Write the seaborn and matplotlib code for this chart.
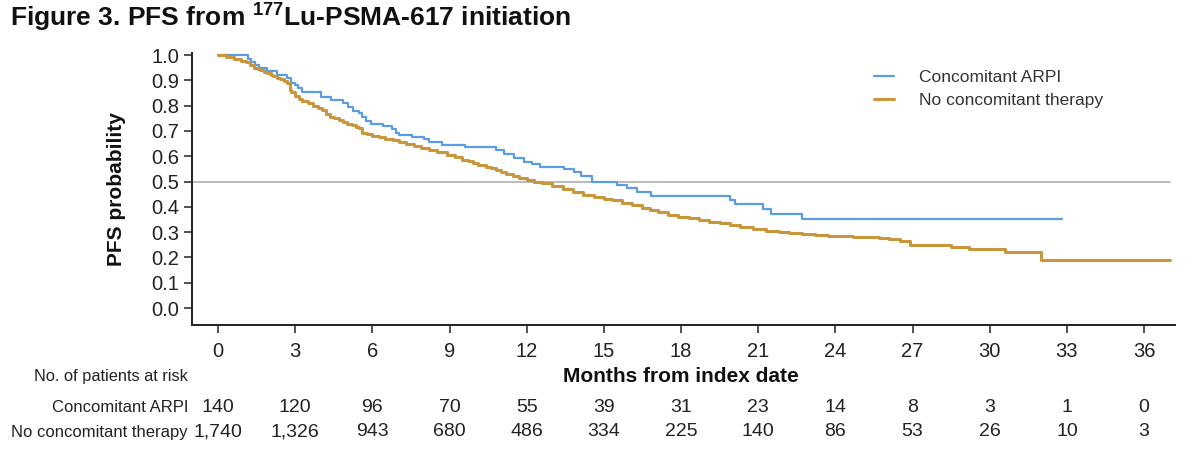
import numpy as np
import pandas as pd
import matplotlib
matplotlib.use("Agg")
import matplotlib.pyplot as plt
import matplotlib.transforms as mtransforms
import seaborn as sns

# ---------------- data ----------------
arpi_months = [0, 1.15, 1.3, 1.45, 1.6, 1.92, 2.3, 2.7, 2.85, 2.98, 3.1, 3.28, 4.0, 4.4, 4.85,
               5.05, 5.23, 5.5, 5.6, 5.77, 5.96, 6.4, 6.78, 6.9, 7.05, 7.56, 8.0, 8.2, 8.7,
               9.6, 10.8, 11.1, 11.5, 11.9, 12.2, 12.5, 13.45, 13.85, 14.1, 14.55, 15.5,
               15.9, 16.3, 16.85, 19.9, 20.1, 21.2, 21.5, 22.7, 32.8]
arpi_pfs = [1.0, 0.985, 0.972, 0.96, 0.95, 0.935, 0.92, 0.908, 0.89, 0.88, 0.868, 0.852, 0.835,
            0.822, 0.81, 0.795, 0.78, 0.77, 0.755, 0.738, 0.728, 0.72, 0.708, 0.69, 0.682,
            0.676, 0.668, 0.656, 0.645, 0.636, 0.625, 0.61, 0.592, 0.578, 0.57, 0.557, 0.55,
            0.537, 0.52, 0.498, 0.486, 0.474, 0.46, 0.443, 0.427, 0.41, 0.39, 0.37, 0.35, 0.35]

none_months = [0, 0.3, 0.64, 0.9, 1.1, 1.25, 1.4, 1.55, 1.65, 1.8, 1.9, 2.05, 2.15, 2.3, 2.4,
               2.55, 2.7, 2.78, 2.85, 3.0, 3.15, 3.28, 3.5, 3.7, 3.9, 4.06, 4.2, 4.35, 4.5,
               4.7, 4.84, 5.0, 5.2, 5.35, 5.5, 5.6, 5.8, 6.0, 6.27, 6.5, 6.8, 7.05, 7.3, 7.6,
               7.9, 8.2, 8.5, 8.9, 9.2, 9.5, 9.7, 9.9, 10.1, 10.4, 10.6, 10.8, 11.0, 11.2,
               11.45, 11.7, 12.0, 12.3, 12.6, 13.0, 13.4, 13.8, 14.2, 14.6, 15.0, 15.3, 15.7,
               16.1, 16.5, 16.8, 17.1, 17.5, 17.9, 18.3, 18.7, 19.1, 19.5, 19.9, 20.3, 20.8,
               21.3, 21.8, 22.2, 22.7, 23.2, 23.7, 24.2, 24.7, 25.2, 25.7, 26.1, 26.5, 26.9,
               28.5, 29.2, 30.6, 32.0, 37.0]
none_pfs = [1.0, 0.992, 0.984, 0.978, 0.972, 0.962, 0.95, 0.944, 0.94, 0.934, 0.929, 0.922,
            0.917, 0.91, 0.905, 0.897, 0.889, 0.862, 0.852, 0.838, 0.828, 0.818, 0.81, 0.8,
            0.79, 0.783, 0.765, 0.757, 0.75, 0.742, 0.735, 0.728, 0.722, 0.716, 0.71, 0.692,
            0.686, 0.681, 0.676, 0.67, 0.663, 0.657, 0.65, 0.642, 0.633, 0.625, 0.617, 0.606,
            0.596, 0.587, 0.58, 0.573, 0.566, 0.558, 0.552, 0.545, 0.537, 0.53, 0.522, 0.514,
            0.506, 0.5, 0.494, 0.482, 0.47, 0.458, 0.447, 0.44, 0.432, 0.427, 0.417, 0.407,
            0.397, 0.388, 0.378, 0.368, 0.36, 0.354, 0.348, 0.341, 0.335, 0.327, 0.32, 0.311,
            0.304, 0.3, 0.296, 0.292, 0.289, 0.286, 0.284, 0.282, 0.281, 0.277, 0.272, 0.265,
            0.248, 0.24, 0.232, 0.222, 0.188, 0.188]

groups = ["Concomitant ARPI", "No concomitant therapy"]
colors = ["#5b9de0", "#c8963c"]

x_ticks = [0, 3, 6, 9, 12, 15, 18, 21, 24, 27, 30, 33, 36]
y_ticks = [0.0, 0.1, 0.2, 0.3, 0.4, 0.5, 0.6, 0.7, 0.8, 0.9, 1.0]
risk_arpi = ["140", "120", "96", "70", "55", "39", "31", "23", "14", "8", "3", "1", "0"]
risk_none = ["1,740", "1,326", "943", "680", "486", "334", "225", "140", "86", "53", "26", "10", "3"]

title = r"Figure 3. PFS from $\mathbf{^{177}}$Lu-PSMA-617 initiation"
x_label = "Months from index date"
y_label = "PFS probability"
risk_title = "No. of patients at risk"

# ---------------- style ----------------
sns.set_style("ticks")
plt.rcParams["font.family"] = ["Liberation Sans", "DejaVu Sans"]
plt.rcParams["mathtext.fontset"] = "custom"
plt.rcParams["mathtext.bf"] = "Liberation Sans:bold"
plt.rcParams["mathtext.rm"] = "Liberation Sans"

df = pd.concat([
    pd.DataFrame({"Months": arpi_months, "PFS": arpi_pfs, "Group": groups[0]}),
    pd.DataFrame({"Months": none_months, "PFS": none_pfs, "Group": groups[1]}),
], ignore_index=True)

W, H = 1200, 457
fig = plt.figure(figsize=(W / 100, H / 100), dpi=100)
ax = fig.add_axes([191.5 / W, 1 - 325 / H, (1175 - 191.5) / W, (325 - 53) / H])

sns.lineplot(data=df, x="Months", y="PFS", hue="Group", hue_order=groups,
             palette=colors, drawstyle="steps-post", estimator=None, sort=False,
             linewidth=1.8, ax=ax)
for line, lw in zip(ax.lines[:2], [1.6, 2.2]):
    line.set_linewidth(lw)

ax.axhline(0.5, xmin=0, xmax=0.995, color="#a8a8a8", lw=1.1, zorder=0)

ax.set_xlim(-1.03, 37.2)
ax.set_ylim(-0.067, 1.008)
ax.set_xticks(x_ticks)
ax.set_yticks(y_ticks)
ax.set_yticklabels([f"{v:.1f}" for v in y_ticks], fontsize=14.5, color="#222222")
ax.set_xticklabels([str(v) for v in x_ticks], fontsize=14.5, color="#222222")
ax.tick_params(axis="both", length=6, width=1.2, color="#333333")
ax.tick_params(axis="y", pad=3)
ax.tick_params(axis="x", pad=6)
for s in ["top", "right"]:
    ax.spines[s].set_visible(False)
for s in ["left", "bottom"]:
    ax.spines[s].set_linewidth(1.4)
    ax.spines[s].set_color("#222222")

ax.set_xlabel("")
ax.set_ylabel(y_label, fontsize=15, fontweight="bold", color="#111111")
ax.yaxis.set_label_coords((126 - 191.5) / (1175 - 191.5), 0.5)

handles, labels = ax.get_legend_handles_labels()
for h, lw in zip(handles, [1.6, 2.2]):
    h.set_linewidth(lw)
leg = ax.legend(handles, labels, loc="upper left", frameon=False,
                bbox_to_anchor=(874 / W, 1 - 70 / H), bbox_transform=fig.transFigure,
                borderaxespad=0, borderpad=0, handlelength=1.15, handletextpad=1.45,
                labelspacing=0.45, fontsize=12.5)
for t in leg.get_texts():
    t.set_color("#333333")

fig.text(10 / W, 1 - 18 / H, title, fontsize=19, fontweight="bold",
         va="center", ha="left", color="#111111")

trans = mtransforms.blended_transform_factory(ax.transData, fig.transFigure)
ax.text(np.mean([x_ticks[0], x_ticks[-1]]), 1 - 376 / H, x_label, transform=trans,
        ha="center", va="center", fontsize=15, fontweight="bold", color="#111111")

fig.text(188 / W, 1 - 377 / H, risk_title, ha="right", va="center", fontsize=11.8,
         color="#222222")
fig.text(188 / W, 1 - 408 / H, groups[0], ha="right", va="center", fontsize=12,
         color="#222222")
fig.text(188 / W, 1 - 432 / H, groups[1], ha="right", va="center", fontsize=12,
         color="#222222")
for xv, a, b in zip(x_ticks, risk_arpi, risk_none):
    ax.text(xv, 1 - 408 / H, a, transform=trans, ha="center", va="center",
            fontsize=14, color="#222222")
    ax.text(xv, 1 - 432 / H, b, transform=trans, ha="center", va="center",
            fontsize=14, color="#222222")

fig.savefig("out.png", dpi=100)
